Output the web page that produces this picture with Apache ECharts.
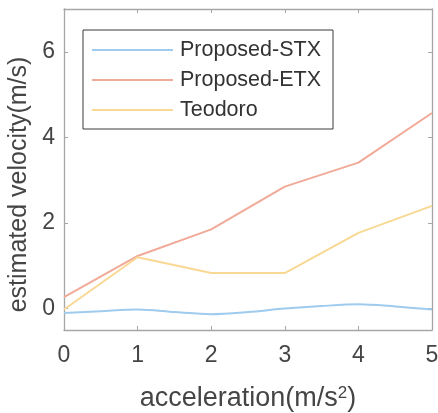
<!DOCTYPE html>
<html>
<head>
<meta charset="utf-8">
<script src="https://cdn.jsdelivr.net/npm/echarts@6/dist/echarts.min.js"></script>
<style>
html,body{margin:0;padding:0;background:#fff;}
#chart{width:438px;height:413px;}
</style>
</head>
<body>
<div id="chart"></div>
<script>
var stxX = [0, 0.5, 1, 1.5, 2, 2.5, 3, 3.5, 4, 4.5, 5];
var stxY = [-0.10, -0.06, -0.02, -0.08, -0.13, -0.08, 0.0, 0.06, 0.10, 0.05, -0.02];
var accel = [0, 1, 2, 3, 4, 5];
var etxY = [0.27, 1.23, 1.85, 2.85, 3.41, 4.57];
var teodoroY = [-0.02, 1.2, 0.83, 0.83, 1.77, 2.40];
var yTicks = [0, 2, 4, 6];
var seriesNames = ['Proposed-STX', 'Proposed-ETX', 'Teodoro'];
var colors = ['#9ecbee', '#f1aa98', '#f9d894'];

function pairs(xs, ys) { return xs.map(function (x, i) { return [x, ys[i]]; }); }

var font = 'Liberation Sans, Arial, Helvetica, sans-serif';
var frame = '#a6a6a6';
var txt = '#454545';

var chart = echarts.init(document.getElementById('chart'));
var xCommon = {
  type: 'value', min: 0, max: 5, interval: 1,
  axisLine: { show: true, onZero: false, lineStyle: { color: frame, width: 1.3 } },
  axisTick: { show: true, inside: true, length: 4, lineStyle: { color: frame } },
  splitLine: { show: false }
};
var yCommon = {
  type: 'value', min: -0.5, max: 7,
  axisLine: { show: true, onZero: false, lineStyle: { color: frame, width: 1.3 } },
  axisTick: { show: true, inside: true, length: 4, customValues: yTicks, lineStyle: { color: frame } },
  splitLine: { show: false }
};
chart.setOption({
  animation: false,
  grid: { left: 64, right: 6, top: 9, bottom: 83, containLabel: false, outerBoundsMode: 'none' },
  legend: {
    left: 83, top: 30, orient: 'vertical',
    data: seriesNames.map(function (n) { return { name: n, icon: 'rect' }; }),
    itemWidth: 81, itemHeight: 2, itemGap: 8,
    padding: [9, 12, 8, 9],
    borderColor: '#3a3a3a', borderWidth: 1, backgroundColor: '#fff',
    textStyle: { fontFamily: font, fontSize: 21.5, color: '#333', lineHeight: 22, padding: [0, 0, 0, 2] }
  },
  xAxis: [
    Object.assign({}, xCommon, {
      position: 'bottom',
      name: 'acceleration(m/s{sup|2})',
      nameLocation: 'middle', nameGap: 55,
      nameTextStyle: { fontFamily: font, fontSize: 27, color: txt,
        rich: { sup: { fontFamily: font, fontSize: 17, color: txt, verticalAlign: 'top', lineHeight: 17, padding: [0, 0, 16, 0] } } },
      axisLabel: { show: true, fontFamily: font, fontSize: 23, color: txt, margin: 14 }
    }),
    Object.assign({}, xCommon, { position: 'top', axisLabel: { show: false } })
  ],
  yAxis: [
    Object.assign({}, yCommon, {
      position: 'left',
      name: 'estimated velocity(m/s)',
      nameLocation: 'middle', nameGap: 31,
      nameTextStyle: { fontFamily: font, fontSize: 25, color: txt, padding: [0, 30, 0, 0] },
      axisLabel: { show: true, fontFamily: font, fontSize: 23, color: txt, margin: 9, customValues: yTicks }
    }),
    Object.assign({}, yCommon, { position: 'right', axisLabel: { show: false } })
  ],
  series: [
    { name: seriesNames[0], type: 'line', data: pairs(stxX, stxY), symbol: 'none', smooth: 0.3,
      lineStyle: { color: colors[0], width: 2 }, itemStyle: { color: colors[0] } },
    { name: seriesNames[1], type: 'line', data: pairs(accel, etxY), symbol: 'none',
      lineStyle: { color: colors[1], width: 2 }, itemStyle: { color: colors[1] } },
    { name: seriesNames[2], type: 'line', data: pairs(accel, teodoroY), symbol: 'none',
      lineStyle: { color: colors[2], width: 2 }, itemStyle: { color: colors[2] } }
  ]
});
</script>
</body>
</html>
